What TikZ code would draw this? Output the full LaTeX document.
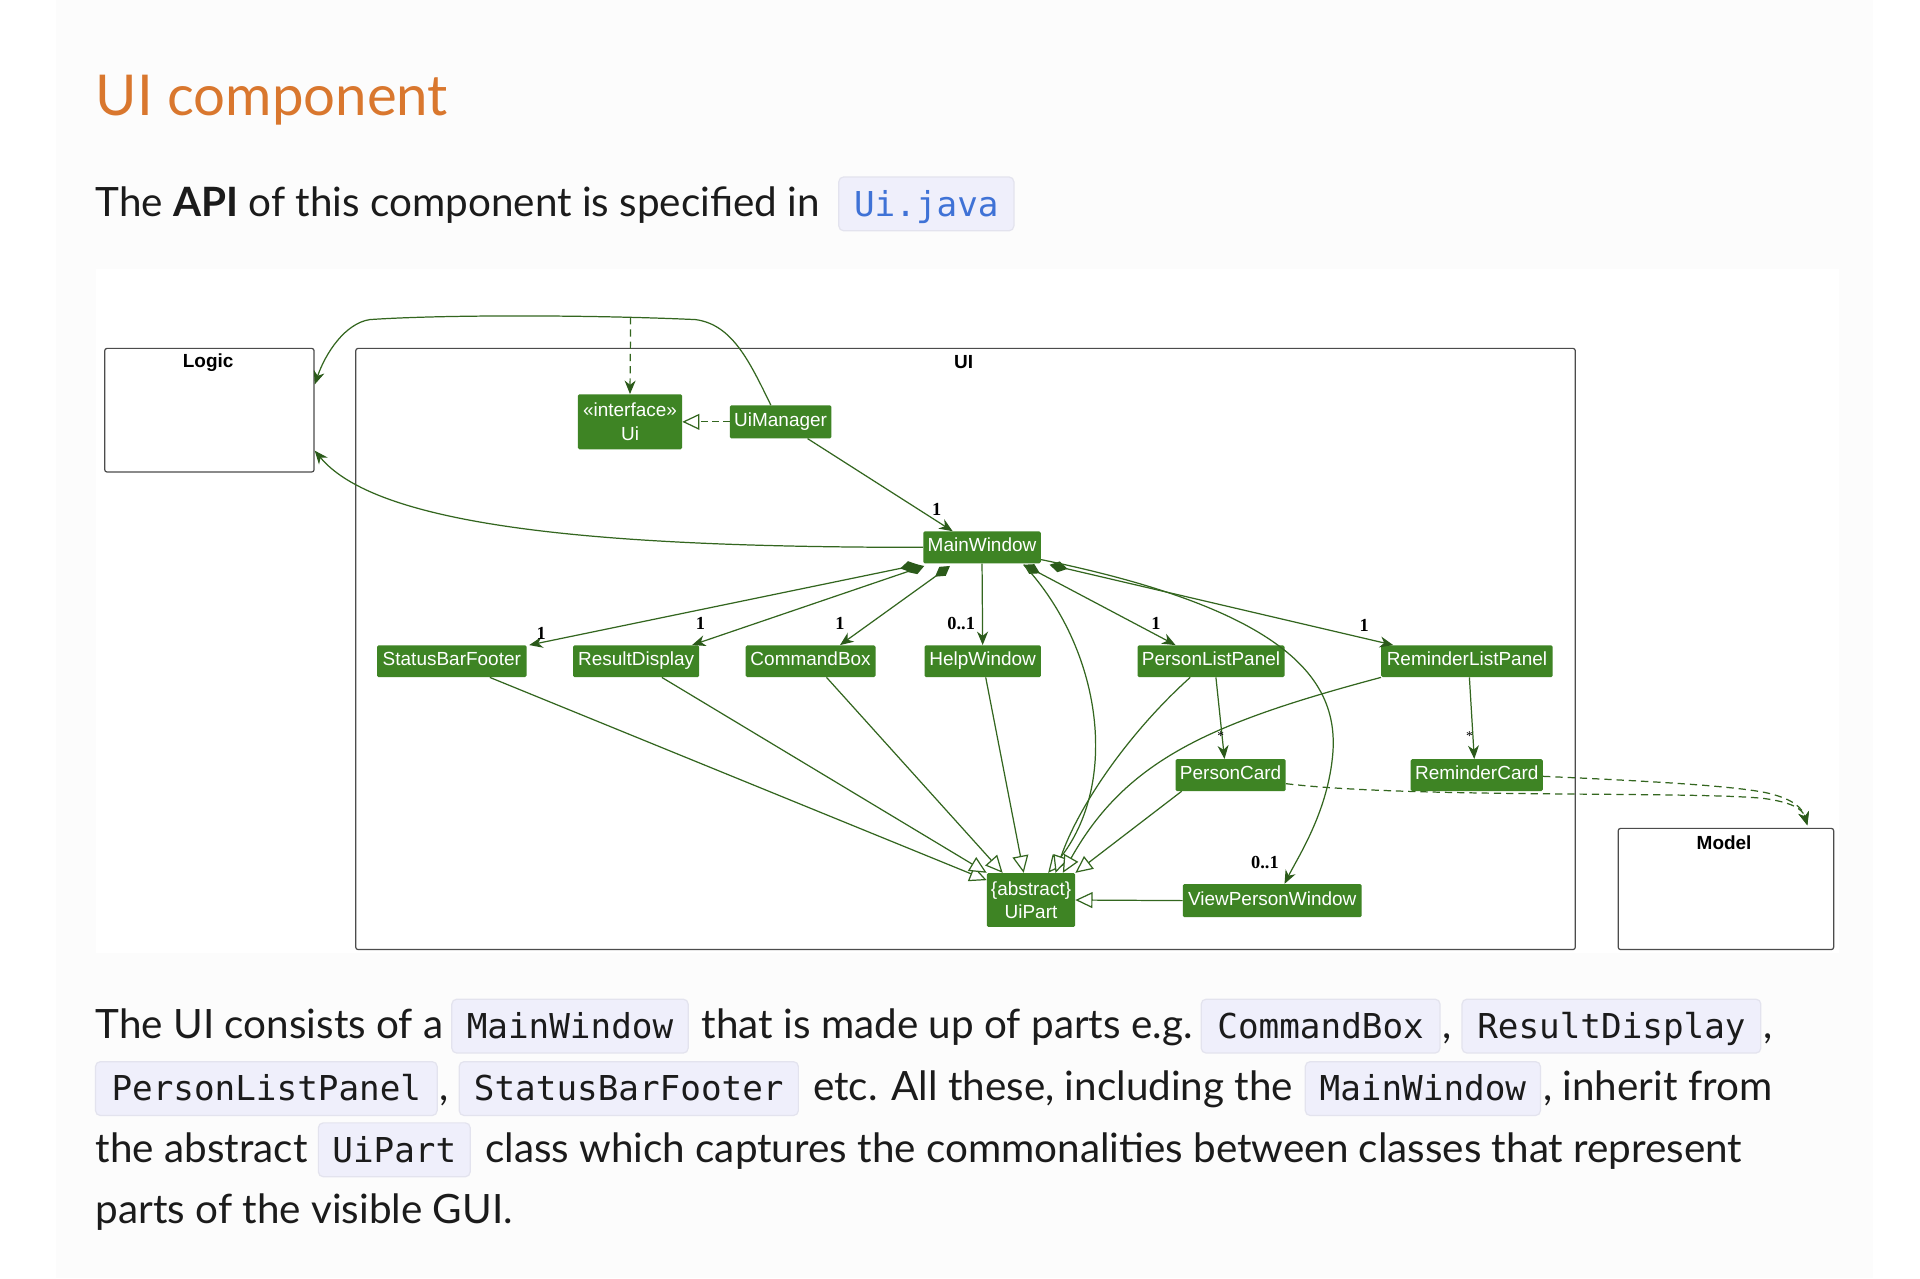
\documentclass[tikz,border=0pt]{standalone}
\usepackage{fontspec}
\setmainfont{Lato}
\newfontfamily\codefont{DejaVu Sans Mono}
\newfontfamily\umlfont{Liberation Sans}
\newfontfamily\labfont{Liberation Serif}
\usetikzlibrary{arrows.meta,calc}
\definecolor{uigreen}{HTML}{3E8424}
\definecolor{lg}{HTML}{33661F}
\definecolor{tipg}{HTML}{2B5A1A}
\definecolor{titleorange}{HTML}{D9772E}
\definecolor{codebg}{HTML}{EFEFFB}
\definecolor{codeborder}{HTML}{E3E3EE}
\definecolor{codeblue}{HTML}{3F72D6}
\definecolor{panel}{HTML}{FCFCFC}
\definecolor{bodytext}{HTML}{1B1B1B}
\tikzset{
 cls/.style={fill=uigreen, text=white, font=\umlfont\fontsize{15.5}{19}\selectfont, inner sep=0pt, minimum height=26pt, rounded corners=1.2pt},
 one/.style={text height=11pt, text depth=3.5pt},
 pkg/.style={draw=black!70, line width=1pt, rounded corners=2pt, fill=white},
 pkgtitle/.style={font=\umlfont\bfseries\fontsize{15.5}{15.5}\selectfont, inner sep=0pt},
 conn/.style={draw=lg, line width=1pt},
 nav/.style={conn, -{Stealth[length=11pt,width=9pt,inset=3.5pt,color=tipg]}},
 comp/.style={conn, {Diamond[length=15pt,width=9pt,color=tipg]}-{Stealth[length=11pt,width=9pt,inset=3.5pt,color=tipg]}},
 inh/.style={conn, -{Triangle[open,length=14pt,width=13pt,fill=white]}},
 depl/.style={nav, dash pattern=on 6pt off 4pt},
 real/.style={conn, dash pattern=on 5pt off 4pt, -{Triangle[open,length=14pt,width=13pt,fill=white]}},
 mult/.style={font=\labfont\bfseries\fontsize{15}{15}\selectfont, inner sep=0pt, text=black},
 body/.style={font=\fontsize{33}{40}\selectfont, text=bodytext, inner sep=0pt, anchor=base west},
 code/.style={fill=codebg, draw=codeborder, line width=1pt, rounded corners=4pt, inner sep=0pt, minimum height=44pt, text height=24pt, text depth=4pt, font=\codefont\fontsize{28}{28}\selectfont, text=bodytext}
}
\begin{document}
\begin{tikzpicture}[x=1pt,y=-1pt]
\useasboundingbox (0,0) rectangle (1568,1044);
\fill[white] (0,0) rectangle (1568,1044);
\fill[panel] (46,0) rectangle (1530,1044);
\fill[white] (78,220) rectangle (1502,778);

% heading and first line
\node[font=\fontsize{46}{46}\selectfont, text=titleorange, inner sep=0pt, anchor=base west] (title) at (78,94) {UI component};
\node[body] (t0) at (78,177) {The \textbf{API} of this component is specified in};
\node[code, text=codeblue, minimum width=143pt] (c0) at (756.5,166.5) {Ui.java};

% packages
\node[pkg, minimum width=171pt, minimum height=101pt, anchor=north west] (Logic) at (85,284) {};
\node[pkg, minimum width=996pt, minimum height=491pt, anchor=north west] (UIpkg) at (290,284) {};
\node[pkg, minimum width=176pt, minimum height=99pt, anchor=north west] (Model) at (1321,676) {};
\node[pkgtitle] (LogicT) at (170,296) {Logic};
\node[pkgtitle] (UIT) at (787,296) {UI};
\node[pkgtitle] (ModelT) at (1408,688) {Model};

% classes
\node[cls, minimum width=85pt, minimum height=45pt, align=center] (Ui) at (514.5,344.5) {«interface»\\Ui};
\node[cls, one, minimum width=83pt, minimum height=27pt] (UiManager) at (637.5,344.5) {UiManager};
\node[cls, one, minimum width=96pt] (MainWindow) at (802,447) {MainWindow};
\node[cls, one, minimum width=122pt] (SBF) at (369,540) {StatusBarFooter};
\node[cls, one, minimum width=103pt] (RD) at (519.5,540) {ResultDisplay};
\node[cls, one, minimum width=106pt] (CB) at (662,540) {CommandBox};
\node[cls, one, minimum width=95pt] (HW) at (802.5,540) {HelpWindow};
\node[cls, one, minimum width=120pt] (PLP) at (989,540) {PersonListPanel};
\node[cls, one, minimum width=140pt] (RLP) at (1198,540) {ReminderListPanel};
\node[cls, one, minimum width=90pt] (PC) at (1005,633) {PersonCard};
\node[cls, one, minimum width=108pt] (RC) at (1206,633) {ReminderCard};
\node[cls, minimum width=72pt, minimum height=44pt, align=center] (UiPart) at (842,735) {\{abstract\}\\UiPart};
\node[cls, one, minimum width=146pt, minimum height=27pt] (VPW) at (1039,735.5) {ViewPersonWindow};

% connectors to Logic / Ui
\coordinate (depsrc) at (515,259);
\draw[nav] ([xshift=-8pt]UiManager.north) .. controls (612,295) and (598,265) .. (568,261) .. controls (480,257) and (360,257) .. (302,261) .. controls (282,264) and (266,288) .. ($(Logic.north east)+(0,30)$);
\draw[depl] (depsrc) -- (Ui.north);
\draw[real] (UiManager.west) -- (Ui.east);
\draw[nav] ([xshift=22pt]UiManager.south) -- ([xshift=-24pt]MainWindow.north);
\node[mult] (mUM) at (765,416) {1};
\draw[nav] (MainWindow.west) .. controls (500,447) and (310,432) .. ($(Logic.south east)+(0,-18)$);

% compositions
\draw[comp] ($(MainWindow.south west)+(-4,1)$) -- ([xshift=2pt]SBF.north east);
\draw[comp] ($(MainWindow.south west)+(1,2)$) -- ([xshift=-6pt]RD.north east);
\draw[comp] ($(MainWindow.south west)+(22,2)$) -- ([xshift=24pt]CB.north);
\draw[nav] (MainWindow.south) -- (HW.north);
\draw[comp] ($(MainWindow.south)+(34,1)$) -- ([xshift=-29pt]PLP.north);
\draw[comp] ($(MainWindow.south east)+(7,1)$) -- ([xshift=10pt]RLP.north west);
\draw[nav] ($(MainWindow.east)+(0,10)$) .. controls (1060,500) and (1095,560) .. (1088,620) .. controls (1083,665) and (1060,700) .. ([xshift=10pt]VPW.north);
\node[mult] (mSBF) at (442,517) {1};
\node[mult] (mRD) at (572,509) {1};
\node[mult] (mCB) at (686,509) {1};
\node[mult] (mHW) at (785,509) {0..1};
\node[mult] (mPLP) at (944,509) {1};
\node[mult] (mRLP) at (1114,511) {1};
\node[mult] (mVPW) at (1033,704) {0..1};

% cards
\draw[nav] ([xshift=4pt]PLP.south) -- ([xshift=-5pt]PC.north);
\draw[nav] ([xshift=2pt]RLP.south) -- ([xshift=-2pt]RC.north);
\node[mult, font=\labfont\fontsize{11}{11}\selectfont] (mPC) at (997,601) {*};
\node[mult, font=\labfont\fontsize{11}{11}\selectfont] (mRC) at (1200,601) {*};

% inheritance
\draw[inh] ([xshift=31pt]SBF.south) -- ($(UiPart.north west)+(0,6)$);
\draw[inh] ([xshift=21pt]RD.south) -- (UiPart.north west);
\draw[inh] ([xshift=13pt]CB.south) -- ($(UiPart.north west)+(13,0)$);
\draw[inh] ([xshift=2.5pt]HW.south) -- ($(UiPart.north)+(-6,0)$);
\draw[inh] ($(MainWindow.south)+(34,1)$) .. controls (900,530) and (915,640) .. ($(UiPart.north)+(14,0)$);
\draw[inh] ([xshift=-17pt]PLP.south) .. controls (920,600) and (880,660) .. ($(UiPart.north)+(20,0)$);
\draw[inh] (RLP.south west) .. controls (990,590) and (920,620) .. ($(UiPart.north)+(26,0)$);
\draw[inh] ([xshift=-40pt]PC.south) -- (UiPart.north east);
\draw[inh] (VPW.west) -- (UiPart.east);

% dependencies to Model
\draw[depl] ($(PC.east)+(0,7)$) .. controls (1150,652) and (1380,646) .. (1440,652) .. controls (1462,655) and (1472,660) .. ($(Model.north east)+(-22,-2)$);
\draw[depl] ($(RC.east)+(0,1)$) .. controls (1350,638) and (1420,642) .. (1445,648) .. controls (1465,653) and (1472,660) .. ($(Model.north east)+(-22,-2)$);

% paragraph
\node[body] (t1a) at (78,848) {The UI consists of a};
\node[code, minimum width=193pt] (c1a) at (465.5,838) {MainWindow};
\node[body] (t1b) at (573,848) {that is made up of parts e.g.};
\node[code, minimum width=195pt] (c1b) at (1078.5,838) {CommandBox};
\node[body] (t1c) at (1178,848) {,};
\node[code, minimum width=244pt] (c1c) at (1316,838) {ResultDisplay};
\node[body] (t1d) at (1440,848) {,};
\node[code, minimum width=279pt] (c2a) at (217.5,889) {PersonListPanel};
\node[body] (t2a) at (359,899) {,};
\node[code, minimum width=277pt] (c2b) at (513.5,889) {StatusBarFooter};
\node[body] (t2b) at (664,899) {etc. All these, including the};
\node[code, minimum width=192pt] (c2c) at (1162,889) {MainWindow};
\node[body] (t2c) at (1260,899) {, inherit from};
\node[body] (t3a) at (78,949) {the abstract};
\node[code, minimum width=124pt] (c3a) at (322,939) {UiPart};
\node[body] (t3b) at (396,949) {class which captures the commonalities between classes that represent};
\node[body] (t4) at (78,999) {parts of the visible GUI.};
\end{tikzpicture}
\end{document}
